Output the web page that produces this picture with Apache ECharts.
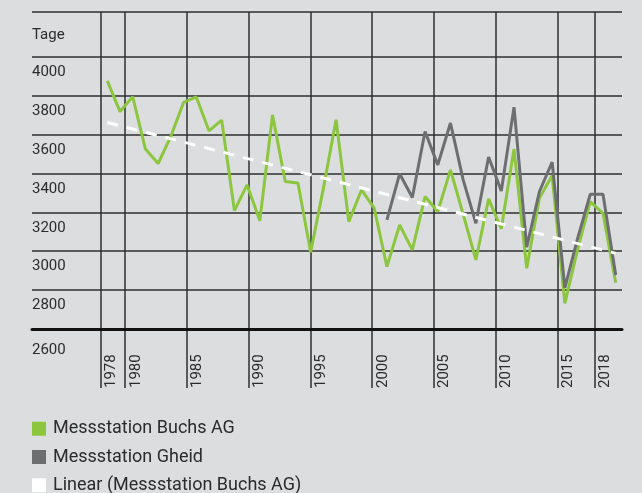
<!DOCTYPE html>
<html lang="de">
<head>
    <meta charset="UTF-8">
    <title>Tage</title>
    <script src="https://cdn.jsdelivr.net/npm/echarts@6/dist/echarts.min.js"></script>
    <style>
        html, body {
            margin: 0;
            padding: 0;
            background-color: #dcdddf;
        }
        #chart {
            width: 642px;
            height: 493px;
        }
    </style>
</head>
<body>
<div id="chart"></div>

<script>
    // Jahre und Werte (Tage)
    const years = ['1978', '1979', '1980', '1981', '1982', '1983', '1984', '1985', '1986', '1987',
        '1988', '1989', '1990', '1991', '1992', '1993', '1994', '1995', '1996', '1997',
        '1998', '1999', '2000', '2001', '2002', '2003', '2004', '2005', '2006', '2007',
        '2008', '2009', '2010', '2011', '2012', '2013', '2014', '2015', '2016', '2017', '2018'];

    const buchs = [3876, 3718, 3794, 3525, 3451, 3591, 3765, 3793, 3619, 3674,
        3209, 3341, 3156, 3701, 3358, 3351, 2995, 3323, 3676, 3152,
        3315, 3221, 2921, 3135, 3007, 3281, 3204, 3418, 3190, 2955,
        3269, 3115, 3525, 2912, 3274, 3389, 2732, 3008, 3255, 3195, 2838];

    const gheidYears = ['2000', '2001', '2002', '2003', '2004', '2005', '2006', '2007', '2008', '2009',
        '2010', '2011', '2012', '2013', '2014', '2015', '2016', '2017', '2018'];
    const gheid = [3161, 3398, 3276, 3616, 3444, 3659, 3367, 3144, 3484, 3310,
        3741, 3021, 3307, 3458, 2811, 3065, 3293, 3293, 2878];

    // Endpunkte der linearen Trendlinie
    const trendYears = ['1978', '2018'];
    const trend = [3662, 2989];

    // Beschriftete Jahre auf der x-Achse
    const labelYears = ['1978', '1980', '1985', '1990', '1995', '2000', '2005', '2010', '2015', '2018'];

    const seriesNames = ['Messstation Buchs AG', 'Messstation Gheid', 'Linear (Messstation Buchs AG)'];

    const yMin = 2600;
    const yMax = 4230;
    const yStep = 200;

    const font = 'Roboto, "Liberation Sans", sans-serif';
    const ink = '#2b2b2b';
    const gridInk = '#2e2e2e';

    const chart = echarts.init(document.getElementById('chart'));

    // Farbe pro Gitterlinie: 4200 wird ausgeblendet
    const hLineColors = [];
    for (let v = yMin; v <= 4200; v += yStep) {
        hLineColors.push(v === 4200 ? 'rgba(0,0,0,0)' : gridInk);
    }
    hLineColors.push(gridInk);

    // eine Legende pro Zeile, damit nichts umbricht
    const legends = seriesNames.map((name, i) => ({
        orient: 'vertical',
        left: 32,
        top: 419.7 + i * 28.3,
        padding: 0,
        icon: 'rect',
        itemWidth: 14,
        itemHeight: 14,
        itemStyle: { borderWidth: 0 },
        textStyle: { fontSize: 18, lineHeight: 18, color: ink, fontFamily: font, padding: [0, 0, 0, 2] },
        data: [name]
    }));

    const option = {
        backgroundColor: '#dcdddf',
        animation: false,
        grid: [
            { left: 107.3, right: 26.3, top: 12, bottom: 164 },   // Daten
            { left: 32, right: 20, top: 12, bottom: 164 },        // horizontale Linien
            { left: 100.4, right: 35.2, top: 12, bottom: 105 }    // vertikale Linien + Jahre
        ],
        xAxis: [
            { gridIndex: 0, type: 'category', data: years, boundaryGap: false, show: false },
            {
                gridIndex: 1, type: 'category', data: years,
                axisLine: { show: true, lineStyle: { color: '#111', width: 3 } },
                axisTick: { show: false },
                axisLabel: { show: false },
                splitLine: { show: false }
            },
            {
                gridIndex: 2, type: 'category', data: years, boundaryGap: true,
                axisLine: { show: false },
                axisTick: { show: false },
                axisLabel: {
                    inside: true,
                    rotate: 90,
                    margin: 0,
                    interval: (i, v) => labelYears.includes(v),
                    color: ink,
                    fontFamily: font,
                    fontSize: 15,
                    verticalAlign: 'top',
                    lineHeight: 9
                },
                splitLine: {
                    show: true,
                    showMaxLine: false,
                    interval: (i, v) => labelYears.includes(v),
                    lineStyle: { color: gridInk, width: 1.5 }
                }
            }
        ],
        yAxis: [
            { gridIndex: 0, type: 'value', min: yMin, max: yMax, show: false },
            {
                gridIndex: 1, type: 'value', min: yMin, max: yMax, interval: yStep,
                axisLine: { show: false },
                axisTick: { show: false },
                splitLine: { show: true, lineStyle: { color: hLineColors, width: 1.5 } },
                axisLabel: {
                    inside: true,
                    margin: 0,
                    showMaxLabel: true,
                    showMinLabel: true,
                    verticalAlign: 'top',
                    align: 'left',
                    color: ink,
                    fontFamily: font,
                    fontSize: 15,
                    formatter: function (v) {
                        if (v === yMax) return '{c|Tage}';
                        if (v === 4200) return '';
                        if (v === yMin) return '{b|' + v + '}';
                        return '{a|' + v + '}';
                    },
                    rich: {
                        a: { lineHeight: 31, fontSize: 15, fontFamily: font, color: ink },
                        b: { lineHeight: 43, fontSize: 15, fontFamily: font, color: ink },
                        c: { lineHeight: 47, fontSize: 15, fontFamily: font, color: ink }
                    }
                }
            },
            { gridIndex: 2, type: 'value', min: yMin, max: yMax, show: false }
        ],
        legend: legends,
        series: [
            {
                name: seriesNames[0],
                type: 'line',
                xAxisIndex: 0, yAxisIndex: 0,
                data: buchs,
                symbol: 'none',
                itemStyle: { color: '#8cc63f' },
                lineStyle: { color: '#8cc63f', width: 3 }
            },
            {
                name: seriesNames[1],
                type: 'line',
                xAxisIndex: 0, yAxisIndex: 0,
                data: gheidYears.map((y, i) => [y, gheid[i]]),
                symbol: 'none',
                itemStyle: { color: '#6d6e70' },
                lineStyle: { color: '#6d6e70', width: 3 }
            },
            {
                name: seriesNames[2],
                type: 'line',
                xAxisIndex: 0, yAxisIndex: 0,
                data: trendYears.map((y, i) => [y, trend[i]]),
                symbol: 'none',
                itemStyle: { color: '#ffffff' },
                lineStyle: { color: '#ffffff', width: 3, type: [11, 9] }
            }
        ]
    };

    chart.setOption(option);
</script>
</body>
</html>
